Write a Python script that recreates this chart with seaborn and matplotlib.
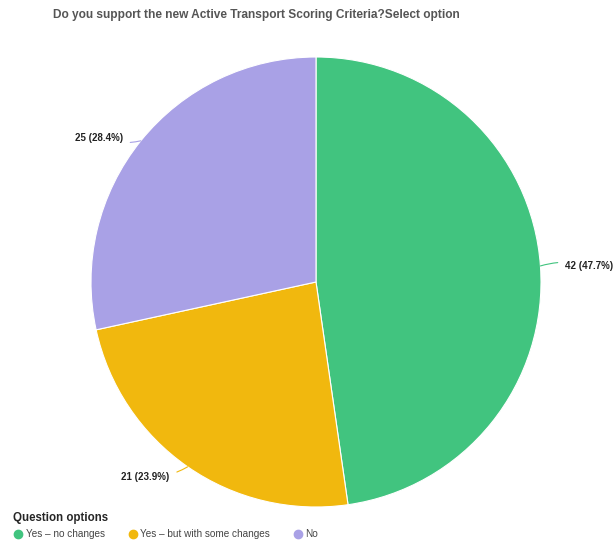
import numpy as np
import matplotlib
matplotlib.use("Agg")
import matplotlib.pyplot as plt
from matplotlib.lines import Line2D
import seaborn as sns

# survey answers
options = ["Yes – no changes", "Yes – but with some changes", "No"]
counts = [42, 21, 25]
colors = ["#41c47f", "#f1b80e", "#a9a1e6"]
title = "Do you support the new Active Transport Scoring Criteria?Select option"
legend_title = "Question options"

sns.set_style("white")
plt.rcParams["font.family"] = ["Liberation Sans", "DejaVu Sans"]

W, H = 616, 541
fig = plt.figure(figsize=(W / 100, H / 100), dpi=100)

# pie centre (316, 282) px, radius 225 px
cx, cy, r = 316, H - 282, 225
ax = fig.add_axes([(cx - r) / W, (cy - r) / H, 2 * r / W, 2 * r / H])

wedges, _ = ax.pie(counts, colors=colors, startangle=90, counterclock=False,
                   radius=1.0, wedgeprops=dict(edgecolor="white", linewidth=0.8))
ax.set_xlim(-1, 1)
ax.set_ylim(-1, 1)
ax.set_aspect("equal")
ax.axis("off")

total = sum(counts)
for w, n in zip(wedges, counts):
    ang = np.deg2rad((w.theta1 + w.theta2) / 2)
    x, y = np.cos(ang), np.sin(ang)
    side = 1 if x >= 0 else -1
    tx = x + side * (0.11 if side > 0 else 0.08)
    ty = y * 1.04 - 0.012 if abs(y) > 0.2 else y
    ax.annotate(f"{n} ({n / total * 100:.1f}%)", xy=(x, y), xytext=(tx, ty),
                ha="left" if side > 0 else "right", va="center",
                fontsize=7, fontweight="bold", color="#222222",
                annotation_clip=False,
                arrowprops=dict(arrowstyle="-", color=w.get_facecolor(), lw=0.8,
                                shrinkA=3, shrinkB=0,
                                connectionstyle="arc3,rad=0.15"))

fig.text(53 / W, 1 - 15 / H, title, ha="left", va="center",
         fontsize=8.6, fontweight="bold", color="#555555")

handles = [Line2D([], [], marker="o", linestyle="", markersize=6,
                  markerfacecolor=c, markeredgecolor=c) for c in colors]
leg = fig.legend(handles, options, title=legend_title, loc="lower left",
                 bbox_to_anchor=(7 / W, -4 / H), ncol=3, frameon=False,
                 fontsize=7.2, handletextpad=0.25, columnspacing=2.3,
                 handlelength=1.0, alignment="left", borderaxespad=0.2)
leg.get_title().set_fontweight("bold")
leg.get_title().set_fontsize(8.3)
for t in leg.get_texts():
    t.set_color("#444444")

fig.savefig("out.png", dpi=100)
